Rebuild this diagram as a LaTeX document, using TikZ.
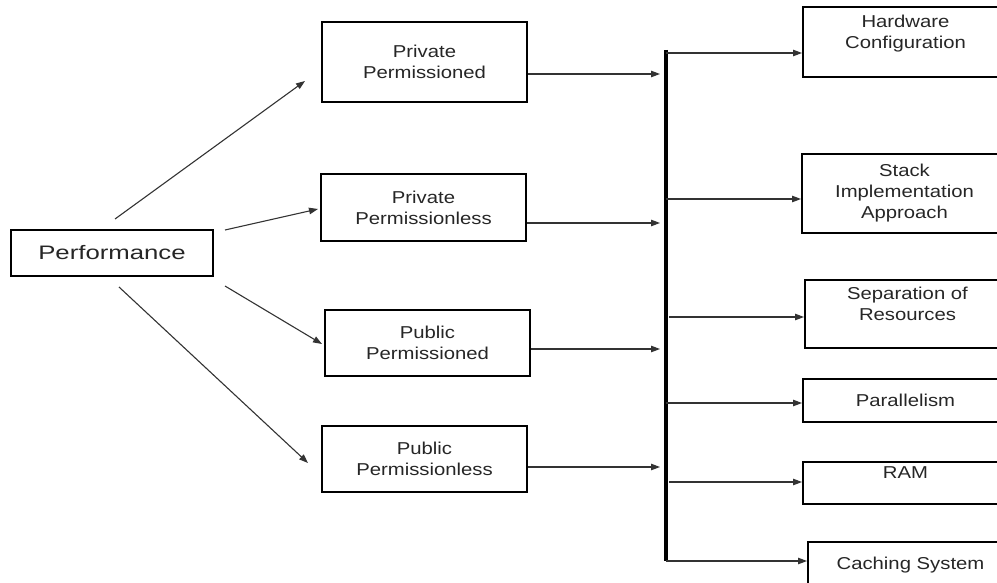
\documentclass[tikz,border=0pt]{standalone}
\usepackage{fontspec}
\setmainfont{Liberation Sans}
\newfontfamily\boxfont[FakeStretch=1.18]{Liberation Sans}
\newfontfamily\perffont[FakeStretch=1.32]{Liberation Sans}
\usetikzlibrary{arrows.meta,calc}
\tikzset{
  kasten/.style={draw, line width=2pt, inner sep=0pt, minimum width=205pt,
    align=center, text=black!85, font=\boxfont\fontsize{17.2}{21}\selectfont},
  pfeil/.style={-{Triangle[length=9pt,width=6.5pt]}, line width=1.1pt, black!80},
}
\begin{document}
\begin{tikzpicture}[x=1pt, y=1pt]
    \useasboundingbox (0,0) rectangle (997,-583);
    \node[kasten, minimum width=202pt, minimum height=46pt,
      font=\perffont\fontsize{19.5}{23}\selectfont] (perf) at (112,-253) {Performance};
    % the four kinds of blockchain
    \node[kasten, minimum height=80pt] (privp) at (424.5,-62) {Private\\Permissioned};
    \node[kasten, minimum height=67pt] (privl) at (423.5,-207.5) {Private\\Permissionless};
    \node[kasten, minimum height=66pt] (pubp) at (427.5,-343) {Public\\Permissioned};
    \node[kasten, minimum height=66pt] (publ) at (424.5,-459) {Public\\Permissionless};
    \draw[pfeil] ($(perf.north)+(3,10)$) -- ($(privp.west)+(-16,-19)$);
    \draw[pfeil] ($(perf.north east)+(11,-1)$) -- ($(privl.west)+(-2,-1.5)$);
    \draw[pfeil] ($(perf.south east)+(11,-9)$) -- ($(pubp.west)+(-2,-1)$);
    \draw[pfeil] ($(perf.south)+(7,-10)$) -- ($(publ.west)+(-13,-4)$);
    % the bar
    \draw[line width=3.2pt] (666,-50) coordinate (bartop) -- (666,-561) coordinate (barbot);
    \draw[pfeil, shorten >=6pt] ($(privp.east)+(0,-12)$) -- ($(privp.east -| bartop)+(0,-12)$);
    \draw[pfeil, shorten >=6pt] ($(privl.east)+(0,-15.5)$) -- ($(privl.east -| bartop)+(0,-15.5)$);
    \draw[pfeil, shorten >=6pt] ($(pubp.east)+(0,-6)$) -- ($(pubp.east -| bartop)+(0,-6)$);
    \draw[pfeil, shorten >=6pt] ($(publ.east)+(0,-8)$) -- ($(publ.east -| bartop)+(0,-8)$);
    % the factors
    \node[kasten, minimum height=70pt] (hw) at (905.5,-42) {Hardware\\Configuration\\~};
    \node[kasten, minimum height=79pt] (stack) at (904.5,-193.5) {Stack\\Implementation\\Approach};
    \node[kasten, minimum height=68pt] (sep) at (907.5,-314) {Separation of\\Resources\\~};
    \node[kasten, minimum height=43pt] (par) at (905.5,-400.5) {Parallelism};
    \node[kasten, minimum height=42pt] (ram) at (905.5,-483) {RAM\\~};
    \node[kasten, minimum height=46pt] (cache) at (910.5,-565) {Caching System};
    \draw[pfeil] ($(hw.west -| bartop)+(0,-11)$) -- ($(hw.west)+(0,-11)$);
    \draw[pfeil] ($(stack.west -| bartop)+(0,-5.5)$) -- ($(stack.west)+(0,-5.5)$);
    \draw[pfeil] ($(sep.west -| bartop)+(3,-3)$) -- ($(sep.west)+(0,-3)$);
    \draw[pfeil] ($(par.west -| bartop)+(0,-2.5)$) -- ($(par.west)+(0,-2.5)$);
    \draw[pfeil] ($(ram.west -| bartop)+(3,1)$) -- ($(ram.west)+(0,1)$);
    \draw[pfeil] ($(cache.west -| bartop)+(0,4)$) -- ($(cache.west)+(0,4)$);
\end{tikzpicture}
\end{document}
